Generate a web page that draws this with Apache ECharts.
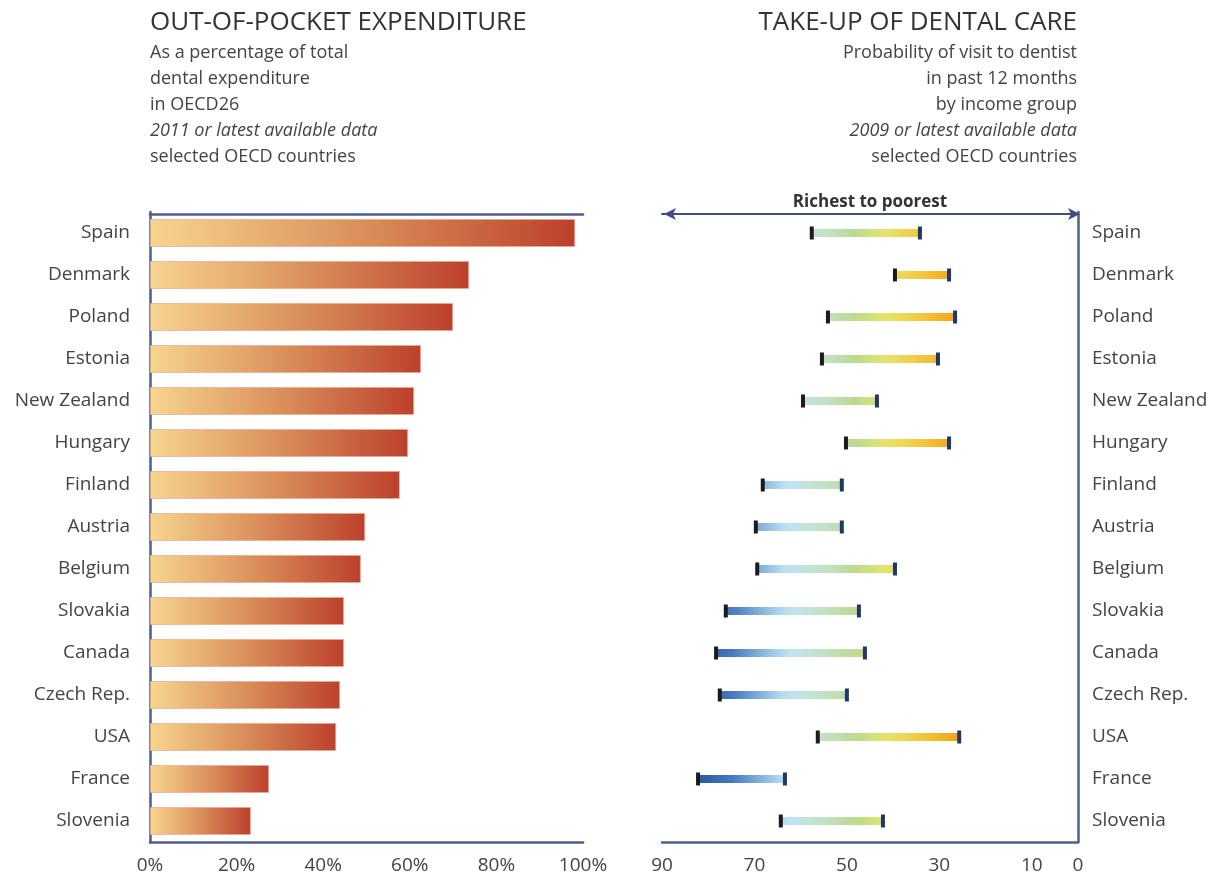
<!DOCTYPE html>
<html>
<head>
<meta charset="utf-8">
<script src="https://cdn.jsdelivr.net/npm/echarts@6/dist/echarts.min.js"></script>
<style>
  html, body { margin: 0; padding: 0; background: #fff; }
  #chart { width: 1222px; height: 878px; }
</style>
</head>
<body>
<div id="chart"></div>
<script>
// countries, top to bottom
const countries = ['Spain', 'Denmark', 'Poland', 'Estonia', 'New Zealand', 'Hungary', 'Finland',
  'Austria', 'Belgium', 'Slovakia', 'Canada', 'Czech Rep.', 'USA', 'France', 'Slovenia'];

// out-of-pocket share of dental expenditure, %
const outOfPocket = [98.2, 73.7, 70.0, 62.6, 61.0, 59.6, 57.7, 49.7, 48.7, 44.8, 44.8, 43.9, 43.0, 27.5, 23.3];

// probability of visit to dentist in past 12 months, richest and poorest
const richestVisit = [57.6, 39.6, 54.1, 55.4, 59.5, 50.2, 68.2, 69.7, 69.4, 76.2, 78.3, 77.5, 56.3, 82.2, 64.3];
const poorestVisit = [34.2, 27.9, 26.6, 30.3, 43.5, 27.9, 51.1, 51.1, 39.6, 47.4, 46.1, 50.0, 25.7, 63.4, 42.2];

const leftTicks = [0, 20, 40, 60, 80, 100];
const rightTicks = [90, 70, 50, 30, 10, 0];

const FONT = '"Open Sans", "DejaVu Sans", sans-serif';
const AXIS = '#4d5d8e';
const TEXT = '#444';

// colour ramp used for the take-up bars (value -> colour)
const ramp = [
  [85, '#1d4b94'], [75, '#4378bf'], [63, '#bfe4f6'], [55, '#c2e2c6'],
  [48, '#bcd98e'], [42, '#e4e66c'], [34, '#f3c840'], [26, '#f6a014']
];
function hex2rgb (h) {
  return [parseInt(h.substr(1, 2), 16), parseInt(h.substr(3, 2), 16), parseInt(h.substr(5, 2), 16)];
}
function colorAt (v) {
  if (v >= ramp[0][0]) return ramp[0][1];
  for (let i = 0; i < ramp.length - 1; i++) {
    const a = ramp[i], b = ramp[i + 1];
    if (v <= a[0] && v >= b[0]) {
      const t = (a[0] - v) / (a[0] - b[0]);
      const ca = hex2rgb(a[1]), cb = hex2rgb(b[1]);
      const c = ca.map((x, k) => Math.round(x + (cb[k] - x) * t));
      return 'rgb(' + c.join(',') + ')';
    }
  }
  return ramp[ramp.length - 1][1];
}

const chart = echarts.init(document.getElementById('chart'));

const rangeData = countries.map((c, i) => [richestVisit[i], poorestVisit[i], c]);

const option = {
  animation: false,
  textStyle: { fontFamily: FONT },
  title: [
    {
      left: 150, top: 10, padding: 0,
      text: 'OUT-OF-POCKET EXPENDITURE',
      textStyle: { fontFamily: FONT, fontSize: 26, fontWeight: 'normal', color: '#333' },
      subtext: 'As a percentage of total\ndental expenditure\nin OECD26\n{i|2011 or latest available data}\nselected OECD countries',
      subtextStyle: {
        fontFamily: FONT, fontSize: 18, lineHeight: 26, color: TEXT,
        rich: { i: { fontFamily: FONT, fontSize: 18, fontStyle: 'italic', color: TEXT, lineHeight: 26 } }
      },
      itemGap: 4
    },
    {
      left: 1077, top: 10, padding: 0, textAlign: 'right',
      text: 'TAKE-UP OF DENTAL CARE',
      textStyle: { fontFamily: FONT, fontSize: 26, fontWeight: 'normal', color: '#333' },
      subtext: 'Probability of visit to dentist\nin past 12 months\nby income group\n{i|2009 or latest available data}\nselected OECD countries',
      subtextStyle: {
        fontFamily: FONT, fontSize: 18, lineHeight: 26, color: TEXT, align: 'right',
        rich: { i: { fontFamily: FONT, fontSize: 18, fontStyle: 'italic', color: TEXT, lineHeight: 26 } }
      },
      itemGap: 4
    }
  ],
  grid: [
    { left: 150, width: 433, top: 212, bottom: 36 },
    { left: 662, width: 416, top: 212, bottom: 36 }
  ],
  xAxis: [
    {
      gridIndex: 0, type: 'value', min: 0, max: 100, interval: 20,
      axisLine: { show: true, lineStyle: { color: AXIS, width: 2.5 } },
      axisTick: { show: false },
      splitLine: { show: false },
      axisLabel: {
        fontSize: 19, color: TEXT, margin: 14, interval: 0,
        formatter: v => leftTicks.indexOf(v) >= 0 ? v + '%' : ''
      }
    },
    {
      gridIndex: 0, type: 'value', position: 'top', min: 0, max: 100, offset: -2,
      axisLine: { show: true, lineStyle: { color: AXIS, width: 2.5 } },
      axisTick: { show: false }, axisLabel: { show: false }, splitLine: { show: false }
    },
    {
      gridIndex: 1, type: 'value', inverse: true, min: 0, max: 90, interval: 10,
      axisLine: { show: true, lineStyle: { color: AXIS, width: 2.5 } },
      axisTick: { show: false },
      splitLine: { show: false },
      axisLabel: {
        fontSize: 19, color: TEXT, margin: 14, interval: 0,
        formatter: v => rightTicks.indexOf(v) >= 0 ? String(v) : ''
      }
    },
    {
      gridIndex: 1, type: 'value', position: 'top', inverse: true, min: 0, max: 90, offset: -2,
      name: 'Richest to poorest', nameLocation: 'middle', nameGap: 3,
      nameTextStyle: { fontFamily: FONT, fontSize: 17, fontWeight: 'bold', color: '#333', verticalAlign: 'bottom' },
      axisLine: {
        show: true, symbol: ['arrow', 'arrow'], symbolSize: [9, 12], symbolOffset: [2, 2],
        lineStyle: { color: '#3f4f85', width: 2 }
      },
      axisTick: { show: false }, axisLabel: { show: false }, splitLine: { show: false }
    }
  ],
  yAxis: [
    {
      gridIndex: 0, type: 'category', data: countries, inverse: true,
      axisLine: { show: true, lineStyle: { color: AXIS, width: 2.5 } },
      axisTick: { show: false },
      axisLabel: { fontSize: 19, color: TEXT, margin: 20 }
    },
    {
      gridIndex: 1, type: 'category', data: countries, inverse: true, position: 'right',
      axisLine: { show: true, lineStyle: { color: AXIS, width: 2.5 } },
      axisTick: { show: false },
      axisLabel: { fontSize: 19, color: TEXT, margin: 14 }
    }
  ],
  series: [
    {
      type: 'bar', xAxisIndex: 0, yAxisIndex: 0,
      data: outOfPocket,
      barWidth: 28,
      itemStyle: {
        color: new echarts.graphic.LinearGradient(0, 0, 1, 0, [
          { offset: 0, color: '#f7d58f' },
          { offset: 0.5, color: '#da8f5a' },
          { offset: 1, color: '#bc402c' }
        ]),
        borderColor: 'rgba(235,170,140,0.7)',
        borderWidth: 1
      }
    },
    {
      type: 'custom', xAxisIndex: 2, yAxisIndex: 1,
      data: rangeData,
      encode: { x: [0, 1], y: 2 },
      renderItem: function (params, api) {
        const hi = api.value(0), lo = api.value(1);
        const p1 = api.coord([hi, api.value(2)]);
        const p2 = api.coord([lo, api.value(2)]);
        const stops = [];
        for (let k = 0; k <= 10; k++) {
          stops.push({ offset: k / 10, color: colorAt(hi + (lo - hi) * k / 10) });
        }
        return {
          type: 'group',
          children: [
            {
              type: 'rect',
              shape: { x: p1[0], y: p1[1] - 4, width: p2[0] - p1[0], height: 8 },
              style: { fill: new echarts.graphic.LinearGradient(0, 0, 1, 0, stops) }
            },
            {
              type: 'rect',
              shape: { x: p1[0] - 2, y: p1[1] - 6.5, width: 4, height: 13 },
              style: { fill: '#1b1b1b' }
            },
            {
              type: 'rect',
              shape: { x: p2[0] - 2, y: p2[1] - 6.5, width: 4, height: 13 },
              style: { fill: '#203868' }
            }
          ]
        };
      }
    }
  ]
};

chart.setOption(option);
window.onresize = () => { chart.resize() };
</script>
</body>
</html>
